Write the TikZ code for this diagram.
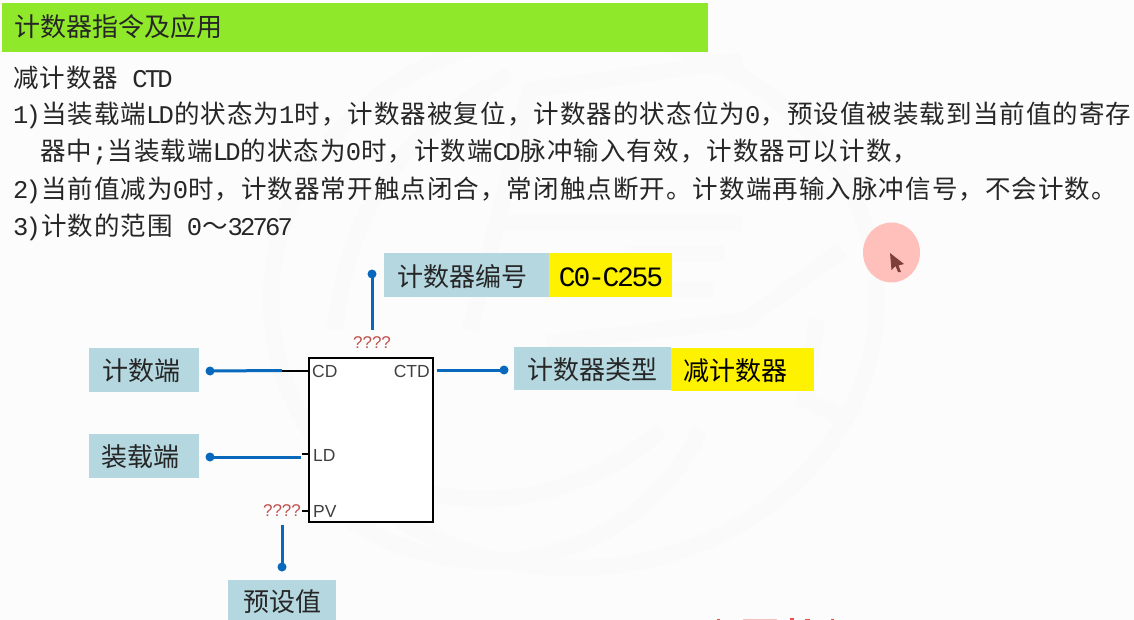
\documentclass[tikz,border=0pt]{standalone}
\usepackage{fontspec}
\setmainfont{Noto Sans CJK SC}
\newfontfamily\bodycjk[LetterSpace=4.2]{Noto Sans CJK SC}
\newfontfamily\latm[LetterSpace=-11]{Liberation Mono}
\newfontfamily\valm[LetterSpace=-8]{Liberation Mono}
\newfontfamily\lats{Liberation Sans}
\newcommand{\La}[1]{{\latm #1}}
\definecolor{barg}{HTML}{8FE829}
\definecolor{boxb}{HTML}{B5D7E0}
\definecolor{boxy}{HTML}{FFF200}
\definecolor{wire}{HTML}{0768BC}
\definecolor{wm}{HTML}{F9FAF9}
\definecolor{qred}{HTML}{C0504D}
\definecolor{mousec}{HTML}{FFC0BB}
\definecolor{cursorc}{HTML}{7F3F38}
\definecolor{redbit}{HTML}{E8504A}
\tikzset{
  bodytext/.style={anchor=west,inner sep=0pt,font=\bodycjk\fontsize{25.5}{27}\selectfont,text=black!85},
  lblbox/.style={fill=boxb,inner sep=0pt,minimum height=44},
  valbox/.style={fill=boxy,inner sep=0pt,minimum height=44},
  boxtext/.style={inner sep=0pt,font=\fontsize{26}{27}\selectfont,text=black!85},
  wireline/.style={draw=wire,line width=3},
  dotend/.style={circle,fill=wire,inner sep=0pt,minimum size=9},
  stub/.style={draw=black,line width=2},
  pinlbl/.style={inner sep=0pt,font=\lats\fontsize{17.5}{18}\selectfont,text=black!75},
  qlbl/.style={inner sep=0pt,font=\lats\fontsize{17}{18}\selectfont,text=qred},
  wmband/.style={draw=wm,line width=16},
}
\begin{document}
\begin{tikzpicture}[x=1pt,y=-1pt]
\useasboundingbox (0,0) rectangle (1134,620);
\fill[white!99!black] (0,0) rectangle (1134,620);
% faint watermark
\begin{scope}
\clip (0,0) rectangle (1134,620);
\draw[wmband] (574,300) ellipse [x radius=303,y radius=268];
\draw[wmband] (335,330) .. controls (350,190) and (420,120) .. (510,75);
\draw[wmband] (470,330) -- (530,90) -- (742,60);
\draw[wmband] (500,223) -- (742,223);
\draw[wmband] (563,290) -- (713,290);
\draw[wmband] (625,253) -- (725,253);
\draw[wmband] (842,250) -- (746,320) -- (547,343);
\draw[wmband] (817,320) -- (805,400) -- (850,420);
\draw[wmband] (350,520) .. controls (470,600) and (640,560) .. (700,430);
\draw[wmband] (420,490) .. controls (520,520) and (620,470) .. (660,430);
\end{scope}
% header
\node[fill=barg,inner sep=0pt,minimum width=706,minimum height=49,anchor=north west] (bar) at (2,3) {};
\node[anchor=west,inner sep=0pt,font=\fontsize{26}{27}\selectfont,text=black!85] (title) at (14,27) {计数器指令及应用};
% text
\node[bodytext] (t0) at (13,78) {减计数器\hspace{14pt}\La{CTD}};
\node[bodytext] (t1) at (13,115) {\La{1)}当装载端\La{LD}的状态为\La{1}时，计数器被复位，计数器的状态位为\La{0}，预设值被装载到当前值的寄存};
\node[bodytext] (t2) at (40,152) {器中\La{;}当装载端\La{LD}的状态为\La{0}时，计数端\La{CD}脉冲输入有效，计数器可以计数，};
\node[bodytext] (t3) at (13,190) {\La{2)}当前值减为\La{0}时，计数器常开触点闭合，常闭触点断开。计数端再输入脉冲信号，不会计数。};
\node[bodytext] (t4) at (13,227) {\La{3)}计数的范围\hspace{14pt}\La{0}～\La{32767}};
% block
\node[draw=black,line width=2.4,fill=white,minimum width=124,minimum height=164,inner sep=0pt] (blk) at (371,440) {};
\node[pinlbl,anchor=west] (cd) at (312,371) {CD};
\node[pinlbl,anchor=east] (ctd) at (430,371) {CTD};
\node[pinlbl,anchor=west] (ld) at (313,455) {LD};
\node[pinlbl,anchor=west] (pv) at (313,511) {PV};
\node[qlbl] (qtop) at (372,343) {????};
\node[qlbl] (qpv) at (282,511) {????};
% label boxes
\node[lblbox,minimum width=110] (bcd) at (144,370) {};
\node[boxtext] (tcd) at (141,371) {计数端};
\node[lblbox,minimum width=110] (bld) at (144,456) {};
\node[boxtext] (tld) at (140,457) {装载端};
\node[lblbox,minimum width=165] (bno) at (466.5,275) {};
\node[boxtext] (tno) at (462.5,277) {计数器编号};
\node[valbox,minimum width=123] (vno) at (610.5,275) {};
\node[inner sep=0pt,font=\valm\fontsize{28}{29}\selectfont,text=black] (tvno) at (611,277) {C0-C255};
\node[lblbox,minimum width=157,minimum height=43] (bty) at (592.5,368.5) {};
\node[boxtext] (tty) at (592,370) {计数器类型};
\node[valbox,minimum width=143,minimum height=43] (vty) at (742.5,369.5) {};
\node[boxtext,text=black] (tvty) at (735.5,371) {减计数器};
\node[lblbox,minimum width=108,minimum height=40,anchor=north] (bpv) at (282,580) {};
\node[boxtext] (tpv) at (282.5,602) {预设值};
% end dots
\node[dotend] (dcd) at (210,371) {};
\node[dotend] (dld) at (210,457) {};
\node[dotend] (dno) at (372,274) {};
\node[dotend] (dty) at (504,370) {};
\node[dotend] (dpv) at (282,567) {};
% connector joints
\coordinate (jcd) at (282,370.5);
\coordinate (scd) at (blk.west |- jcd);
\coordinate (sld0) at (302,454);
\coordinate (sld1) at (blk.west |- sld0);
\coordinate (spv0) at (302,511);
\coordinate (spv1) at (blk.west |- spv0);
\coordinate (wld) at (301,457);
\coordinate (wno) at (372,330);
\coordinate (wty) at (437,370);
\coordinate (wpv) at (282,525);
% connectors
\draw[wireline] (dcd.center) -- (jcd);
\draw[stub] (jcd) -- (scd);
\draw[wireline] (dld.center) -- (wld);
\draw[stub] (sld0) -- (sld1);
\draw[stub] (spv0) -- (spv1);
\draw[wireline] (dno.center) -- (wno);
\draw[wireline] (wty) -- (dty.center);
\draw[wireline] (wpv) -- (dpv.center);
% pointer highlight
\fill[mousec] (891.5,252.5) ellipse [x radius=28.5,y radius=30];
\fill[cursorc] (890,253) -- (904,264) -- (898.5,265.5) -- (901,272) -- (898,272) -- (895.5,266) -- (891.5,270) -- cycle;
% cut-off marks at the lower edge
\fill[redbit] (717,618.5) rectangle (720,620);
\fill[redbit!35] (743,618.5) rectangle (777,620);
\fill[redbit] (790,618) rectangle (794,620);
\fill[redbit] (805,618.5) rectangle (810,620);
\fill[redbit] (831,618.5) rectangle (834,620);
\end{tikzpicture}
\end{document}
